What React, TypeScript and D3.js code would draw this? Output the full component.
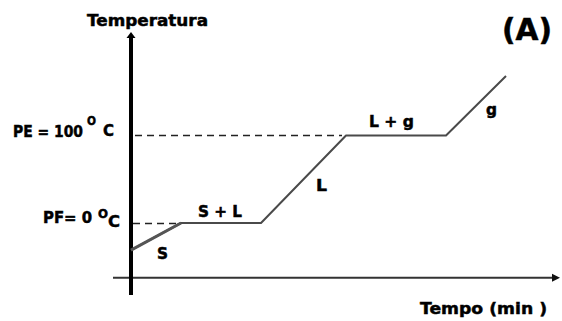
import React from "react";
import * as d3 from "d3";

// Data: heating curve of water (time in min, temperature in °C)
const times = [0, 5, 13, 21.5, 31.5, 37.5];
const temps = [-31, 0, 0, 100, 100, 168];
const refLevels = [0, 100]; // PF, PE
const phaseLabels = ["S", "S + L", "L", "L + g", "g"];

const W = 562;
const H = 321;

export default function App() {
  const x = d3.scaleLinear().domain([0, 40]).range([131, 531]);
  const y = d3.scaleLinear().domain([0, 100]).range([223, 135.5]);

  const pts: [number, number][] = times.map((t, i) => [t, temps[i]]);
  const line = d3
    .line<[number, number]>()
    .x((d) => x(d[0]))
    .y((d) => y(d[1]));

  const font = "'DejaVu Sans', Verdana, sans-serif";
  const axisY = y(-62.5);
  const x0 = x(0);

  const lab = [
    { x: 157, y: 259, w: 11 },
    { x: 198, y: 216.5, w: 44 },
    { x: 316, y: 191, w: 11 },
    { x: 369, y: 126.5, w: 45 },
    { x: 486, y: 115, w: 11 },
  ];

  return (
    <svg
      width={W}
      height={H}
      style={{ position: "absolute", left: 0, top: 0, background: "#fff" }}
      fontFamily={font}
      fontWeight="bold"
    >
      {/* dashed reference lines */}
      <line
        x1={x0 + 4}
        x2={x(21.1)}
        y1={y(refLevels[1])}
        y2={y(refLevels[1])}
        stroke="#222"
        strokeWidth={1.5}
        strokeDasharray="7 5"
      />
      <line
        x1={x0 + 2}
        x2={x(5)}
        y1={y(refLevels[0]) + 0.5}
        y2={y(refLevels[0]) + 0.5}
        stroke="#222"
        strokeWidth={1.5}
        strokeDasharray="7 5"
      />

      {/* x axis */}
      <line x1={113} x2={553} y1={axisY} y2={axisY} stroke="#333" strokeWidth={2} />
      <path d={`M560,${axisY} L552,${axisY - 4} L552,${axisY + 4} Z`} fill="#111" />
      {/* y axis */}
      <line x1={x0} x2={x0} y1={37} y2={295} stroke="#000" strokeWidth={4} />
      <path d={`M${x0},32 L${x0 - 4.5},38 L${x0 + 4.5},38 Z`} fill="#000" />

      {/* heating curve */}
      <path
        d={line(pts) || ""}
        fill="none"
        stroke="#4a4a4a"
        strokeWidth={2}
        strokeLinejoin="round"
      />
      <path d={line(pts.slice(0, 2)) || ""} fill="none" stroke="#555" strokeWidth={3} />

      <g stroke="#000" strokeWidth={0.5}>
        {/* titles */}
        <text x={87} y={26} fontSize={16} textLength={121} lengthAdjust="spacingAndGlyphs">
          Temperatura
        </text>
        <text x={502} y={40} fontSize={30} textLength={50} lengthAdjust="spacingAndGlyphs">
          (A)
        </text>
        <text x={420} y={314} fontSize={16} textLength={127} lengthAdjust="spacingAndGlyphs">
          Tempo (min )
        </text>

        {/* reference labels */}
        <text x={13} y={137} fontSize={16} textLength={70} lengthAdjust="spacingAndGlyphs">
          PE = 100
        </text>
        <text x={87} y={125} fontSize={12} textLength={9} lengthAdjust="spacingAndGlyphs">
          O
        </text>
        <text x={103} y={136} fontSize={16} textLength={11} lengthAdjust="spacingAndGlyphs">
          C
        </text>

        <text x={43} y={223} fontSize={16} textLength={49} lengthAdjust="spacingAndGlyphs">
          PF= 0
        </text>
        <text x={98} y={218} fontSize={12} textLength={10} lengthAdjust="spacingAndGlyphs">
          O
        </text>
        <text x={108} y={227} fontSize={16} textLength={12} lengthAdjust="spacingAndGlyphs">
          C
        </text>

        {/* phase labels */}
        {lab.map((p, i) => (
          <text
            key={i}
            x={p.x}
            y={p.y}
            fontSize={16}
            textLength={p.w}
            lengthAdjust="spacingAndGlyphs"
          >
            {phaseLabels[i]}
          </text>
        ))}
      </g>
    </svg>
  );
}
